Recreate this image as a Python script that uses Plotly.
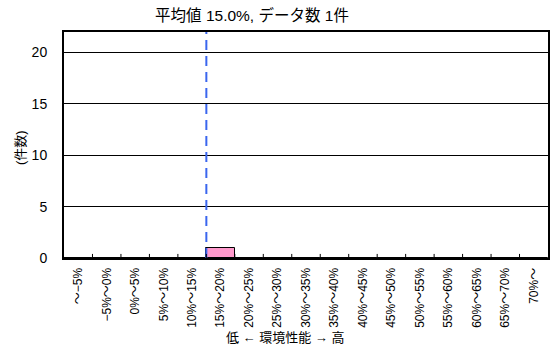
import plotly.graph_objects as go

categories = ["～−5%", "−5%～0%", "0%～5%", "5%～10%", "10%～15%", "15%～20%",
              "20%～25%", "25%～30%", "30%～35%", "35%～40%", "40%～45%",
              "45%～50%", "50%～55%", "55%～60%", "60%～65%", "65%～70%", "70%～"]
counts = [0, 0, 0, 0, 0, 1, 0, 0, 0, 0, 0, 0, 0, 0, 0, 0, 0]
mean_value = 15.0
n_items = 1
y_ticks = [0, 5, 10, 15, 20]

FONT = "Liberation Sans, Noto Sans CJK JP"

fig = go.Figure()
fig.add_trace(go.Bar(
    x=list(range(len(categories))), y=counts,
    marker=dict(color="#ff99cc", line=dict(color="black", width=1)),
    width=1.0,
))

mean_pos = (mean_value + 10) / 5 - 0.5
fig.add_shape(type="line", xref="x", yref="paper", x0=mean_pos, x1=mean_pos, y0=0, y1=1,
              line=dict(color="#3a66ee", width=2, dash="10px,6px"))

fig.update_layout(
    width=555, height=350,
    margin=dict(l=64, r=7, t=32, b=92, autoexpand=False),
    paper_bgcolor="white", plot_bgcolor="white",
    showlegend=False,
    bargap=0,
    font=dict(family=FONT, color="black", size=12),
    title=dict(text=f"平均値 {mean_value:.1f}%, データ数 {n_items}件", x=252 / 555, xanchor="center",
               y=1 - 16 / 350, yanchor="middle", font=dict(size=15.5, family=FONT, color="black")),
    xaxis=dict(
        tickmode="array", tickvals=list(range(len(categories))), ticktext=categories,
        range=[-0.5, len(categories) - 0.5], automargin=False,
        tickangle=-90, showgrid=False, zeroline=False,
        showline=True, linecolor="black", linewidth=2, mirror=True,
        ticks="", ticklabelstandoff=3, tickfont=dict(size=12, family=FONT),
    ),
    yaxis=dict(
        range=[0, 22], tickvals=y_ticks, showgrid=True, gridcolor="black", gridwidth=1,
        zeroline=False, showline=True, linecolor="black", linewidth=2, mirror=True,
        ticks="", ticklabelstandoff=12, automargin=False, tickfont=dict(size=14, family=FONT),
    ),
    annotations=[
        dict(text="低 ← 環境性能 → 高", xref="paper", yref="paper", x=(285 - 64) / 484, y=-(337 - 258) / 226,
             xanchor="center", yanchor="middle", showarrow=False, font=dict(size=13, family=FONT)),
        dict(text="(件数)", xref="paper", yref="paper", x=-(64 - 20) / 484, y=(258 - 148) / 226,
             xanchor="center", yanchor="middle", showarrow=False, textangle=-90,
             font=dict(size=13, family=FONT)),
    ],
)

# boundary tick marks (inside, on bottom axis)
for i in range(1, len(categories)):
    fig.add_shape(type="line", xref="x", yref="paper", x0=i - 0.5, x1=i - 0.5, y0=0, y1=0.018,
                  line=dict(color="black", width=1), layer="above")

fig.write_html("out.html", config={"displayModeBar": False},
               post_script="document.body.style.margin='0';document.body.style.overflow='hidden';")
